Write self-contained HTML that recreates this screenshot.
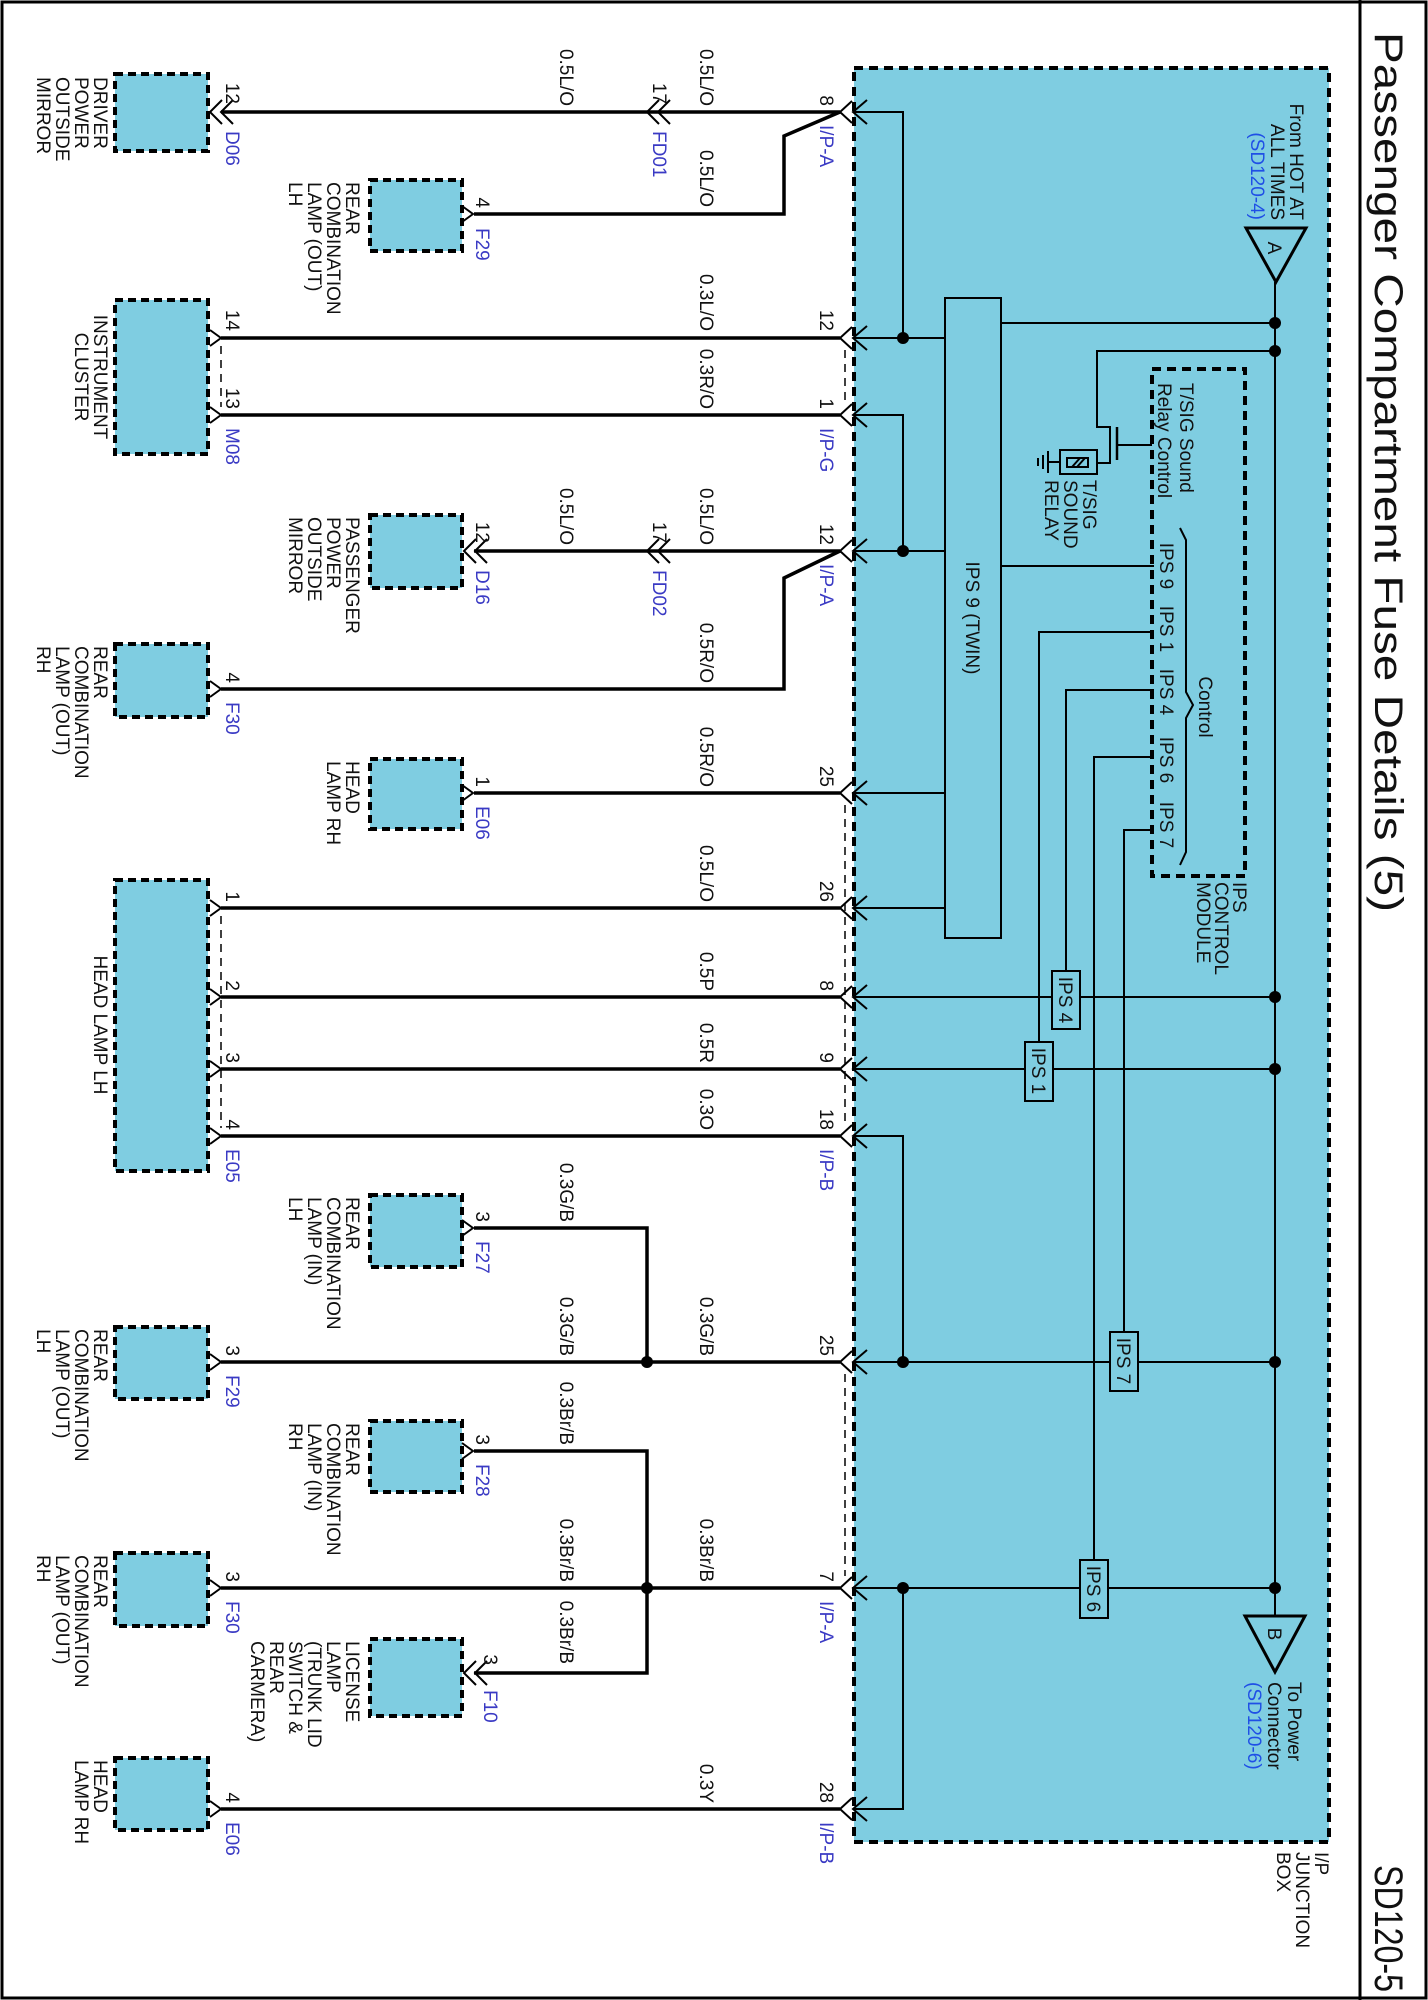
<!DOCTYPE html>
<html><head><meta charset="utf-8"><style>
html,body{margin:0;padding:0;background:#fff;}
svg{display:block;}
text{font-family:"Liberation Sans",Arial,sans-serif;font-size:19px;fill:#111;}
.b{fill:#3a3ac4;}
.lb{fill:#1f4fe6;}
.ti{font-size:40px;}
.w{stroke:#000;stroke-width:3.5;fill:none;}
.n{stroke:#000;stroke-width:2;fill:none;}
.c{stroke:#000;stroke-width:2;fill:none;}
.cb{fill:#7fcde1;stroke:#000;stroke-width:4;stroke-dasharray:8 5;}
.d{stroke:#000;stroke-width:1.5;stroke-dasharray:8 6;fill:none;}
</style></head><body>
<svg width="1428" height="2000" viewBox="0 0 1428 2000" xmlns="http://www.w3.org/2000/svg">
<rect x="2" y="2" width="1424" height="1996" fill="none" stroke="#000" stroke-width="3"/>
<line x1="1360" y1="0" x2="1360" y2="2000" stroke="#000" stroke-width="3"/>
<text class="ti" transform="translate(1375,32) rotate(90)" textLength="880" lengthAdjust="spacingAndGlyphs">Passenger Compartment Fuse Details (5)</text>
<text class="ti" transform="translate(1375,1865) rotate(90)" textLength="127" lengthAdjust="spacingAndGlyphs">SD120-5</text>

<!-- junction box -->
<rect x="854" y="68" width="475" height="1774" fill="#7fcde1" stroke="#000" stroke-width="4" stroke-dasharray="9 6"/>

<!-- component boxes -->
<rect class="cb" x="115" y="74" width="93" height="77"/>
<rect class="cb" x="370" y="180" width="92" height="71"/>
<rect class="cb" x="115" y="300" width="93" height="154"/>
<rect class="cb" x="370" y="515" width="92" height="73"/>
<rect class="cb" x="115" y="644" width="93" height="73"/>
<rect class="cb" x="370" y="759" width="92" height="70"/>
<rect class="cb" x="115" y="880" width="93" height="291"/>
<rect class="cb" x="370" y="1195" width="92" height="72"/>
<rect class="cb" x="115" y="1327" width="93" height="72"/>
<rect class="cb" x="370" y="1421" width="92" height="71"/>
<rect class="cb" x="115" y="1553" width="93" height="73"/>
<rect class="cb" x="370" y="1639" width="92" height="77"/>
<rect class="cb" x="115" y="1758" width="93" height="72"/>

<!-- thick wires -->
<g class="w">
<line x1="221" y1="112" x2="840" y2="112"/>
<polyline points="840,112 784,136 784,214 474,214"/>
<line x1="221" y1="338" x2="840" y2="338"/>
<line x1="221" y1="415" x2="840" y2="415"/>
<line x1="474" y1="551" x2="840" y2="551"/>
<polyline points="840,551 784,578 784,689 221,689"/>
<line x1="474" y1="793" x2="840" y2="793"/>
<line x1="221" y1="908" x2="840" y2="908"/>
<line x1="221" y1="997" x2="840" y2="997"/>
<line x1="221" y1="1069" x2="840" y2="1069"/>
<line x1="221" y1="1136" x2="840" y2="1136"/>
<line x1="221" y1="1362" x2="840" y2="1362"/>
<polyline points="647,1362 647,1228 474,1228"/>
<line x1="221" y1="1588" x2="840" y2="1588"/>
<polyline points="474,1451 647,1451 647,1673 474,1673"/>
<line x1="221" y1="1809" x2="840" y2="1809"/>
</g>
<circle cx="647" cy="1362" r="6"/><circle cx="647" cy="1588" r="6"/>

<!-- box-side connectors -->
<g class="c">
<path d="M852,101 L840,112 L852,123 M867,100 L853,112 L867,124"/>
<path d="M852,327 L840,338 L852,349 M867,326 L853,338 L867,350"/>
<path d="M852,404 L840,415 L852,426 M867,403 L853,415 L867,427"/>
<path d="M852,540 L840,551 L852,562 M867,539 L853,551 L867,563"/>
<path d="M852,782 L840,793 L852,804 M867,781 L853,793 L867,805"/>
<path d="M852,897 L840,908 L852,919 M867,896 L853,908 L867,920"/>
<path d="M852,986 L840,997 L852,1008 M867,985 L853,997 L867,1009"/>
<path d="M852,1058 L840,1069 L852,1080 M867,1057 L853,1069 L867,1081"/>
<path d="M852,1125 L840,1136 L852,1147 M867,1124 L853,1136 L867,1148"/>
<path d="M852,1351 L840,1362 L852,1373 M867,1350 L853,1362 L867,1374"/>
<path d="M852,1577 L840,1588 L852,1599 M867,1576 L853,1588 L867,1600"/>
<path d="M852,1798 L840,1809 L852,1820 M867,1797 L853,1809 L867,1821"/>
<!-- inline double chevrons -->
<path d="M659,100 L647,112 L659,124 M670,100 L658,112 L670,124"/>
<path d="M659,539 L647,551 L659,563 M670,539 L658,551 L670,563"/>
<path d="M222,100 L210,112 L222,124 M233,100 L221,112 L233,124"/>
<path d="M476,539 L464,551 L476,563 M487,539 L475,551 L487,563"/>
<path d="M476,1661 L464,1673 L476,1685 M487,1661 L475,1673 L487,1685"/>
<!-- male connectors on boxes -->
<path d="M210,330 L221,338 L210,346"/><path d="M210,407 L221,415 L210,423"/>
<path d="M462,206 L473,214 L462,222"/>
<path d="M210,681 L221,689 L210,697"/>
<path d="M462,785 L473,793 L462,801"/>
<path d="M210,900 L221,908 L210,916"/><path d="M210,989 L221,997 L210,1005"/>
<path d="M210,1061 L221,1069 L210,1077"/><path d="M210,1128 L221,1136 L210,1144"/>
<path d="M462,1220 L473,1228 L462,1236"/>
<path d="M210,1354 L221,1362 L210,1370"/>
<path d="M462,1443 L473,1451 L462,1459"/>
<path d="M210,1580 L221,1588 L210,1596"/>
<path d="M210,1801 L221,1809 L210,1817"/>
</g>
<!-- dashed group lines -->
<g class="d">
<line x1="845" y1="350" x2="845" y2="403"/>
<line x1="845" y1="805" x2="845" y2="1124"/>
<line x1="845" y1="1374" x2="845" y2="1576"/>
<line x1="221" y1="346" x2="221" y2="407"/>
<line x1="221" y1="916" x2="221" y2="1128"/>
</g>

<!-- inner wiring -->
<g class="n">
<polyline points="853,112 903,112 903,338"/>
<line x1="853" y1="338" x2="945" y2="338"/>
<polyline points="853,415 903,415 903,551"/>
<line x1="853" y1="551" x2="945" y2="551"/>
<line x1="853" y1="793" x2="945" y2="793"/>
<line x1="853" y1="908" x2="945" y2="908"/>
<line x1="853" y1="997" x2="1275" y2="997"/>
<line x1="853" y1="1069" x2="1275" y2="1069"/>
<polyline points="853,1136 903,1136 903,1362"/>
<line x1="853" y1="1362" x2="1275" y2="1362"/>
<line x1="853" y1="1588" x2="1275" y2="1588"/>
<polyline points="853,1809 903,1809 903,1588"/>
<line x1="1275" y1="282" x2="1275" y2="1616"/>
<rect x="945" y="298" width="56" height="640"/>
<line x1="1001" y1="323" x2="1275" y2="323"/>
<polyline points="1275,351 1097,351 1097,427 1110,427 1110,463 1097,463"/>
<rect x="1060" y="450" width="37" height="24"/>
<rect x="1067" y="458" width="21" height="9"/>
<path d="M1072,467 L1080,458 M1077,467 L1085,458"/>
<line x1="1060" y1="462" x2="1048" y2="462"/>
<line x1="1048" y1="451" x2="1048" y2="473"/>
<line x1="1043" y1="455" x2="1043" y2="469"/>
<line x1="1038" y1="458" x2="1038" y2="466"/>
<line x1="1117" y1="427" x2="1117" y2="460" stroke-width="2.5"/>
<line x1="1117" y1="445" x2="1152" y2="445"/>
<line x1="1001" y1="566" x2="1154" y2="566"/>
<polyline points="1154,632 1039,632 1039,1042"/>
<polyline points="1154,690 1066,690 1066,971"/>
<polyline points="1154,757 1094,757 1094,1560"/>
<polyline points="1154,830 1124,830 1124,1332"/>
<path d="M1180,528 L1186,540 L1186,692 L1193,705 L1186,718 L1186,852 L1180,865"/>
<polygon points="1246,228 1306,228 1276,282" stroke-width="3"/>
<polygon points="1245,1616 1305,1616 1275,1672" stroke-width="3"/>
</g>
<g fill="#7fcde1" stroke="#000" stroke-width="2">
<rect x="1052" y="971" width="28" height="58"/>
<rect x="1025" y="1042" width="28" height="59"/>
<rect x="1110" y="1332" width="28" height="59"/>
<rect x="1080" y="1560" width="28" height="58"/>
</g>
<rect x="1152" y="369" width="93" height="507" fill="none" stroke="#000" stroke-width="4" stroke-dasharray="9 6"/>
<g>
<circle cx="903" cy="338" r="6"/><circle cx="903" cy="551" r="6"/>
<circle cx="903" cy="1362" r="6"/><circle cx="903" cy="1588" r="6"/>
<circle cx="1275" cy="323" r="6"/><circle cx="1275" cy="351" r="6"/>
<circle cx="1275" cy="997" r="6"/><circle cx="1275" cy="1069" r="6"/>
<circle cx="1275" cy="1362" r="6"/><circle cx="1275" cy="1588" r="6"/>
</g>

<!-- inner text -->
<text transform="translate(966,618) rotate(90)" text-anchor="middle">IPS 9 (TWIN)</text>
<text transform="translate(1059,1000) rotate(90)" text-anchor="middle">IPS 4</text>
<text transform="translate(1032,1071) rotate(90)" text-anchor="middle">IPS 1</text>
<text transform="translate(1117,1361) rotate(90)" text-anchor="middle">IPS 7</text>
<text transform="translate(1087,1589) rotate(90)" text-anchor="middle">IPS 6</text>
<text transform="translate(1160,566) rotate(90)" text-anchor="middle">IPS 9</text>
<text transform="translate(1160,629) rotate(90)" text-anchor="middle">IPS 1</text>
<text transform="translate(1160,692) rotate(90)" text-anchor="middle">IPS 4</text>
<text transform="translate(1160,760) rotate(90)" text-anchor="middle">IPS 6</text>
<text transform="translate(1160,825) rotate(90)" text-anchor="middle">IPS 7</text>
<text transform="translate(1199,707) rotate(90)" text-anchor="middle">Control</text>
<text transform="translate(1180,383) rotate(90)">T/SIG Sound</text>
<text transform="translate(1158,383) rotate(90)">Relay Control</text>
<text transform="translate(1083,480) rotate(90)">T/SIG</text>
<text transform="translate(1064,480) rotate(90)">SOUND</text>
<text transform="translate(1045,480) rotate(90)">RELAY</text>
<text transform="translate(1233,882) rotate(90)">IPS</text>
<text transform="translate(1215,882) rotate(90)">CONTROL</text>
<text transform="translate(1197,882) rotate(90)">MODULE</text>
<text transform="translate(1268,248) rotate(90)" text-anchor="middle">A</text>
<text transform="translate(1268,1634) rotate(90)" text-anchor="middle">B</text>
<text transform="translate(1290,220) rotate(90)" text-anchor="end">From HOT AT</text>
<text transform="translate(1271,220) rotate(90)" text-anchor="end">ALL TIMES</text>
<text class="lb" transform="translate(1251,220) rotate(90)" text-anchor="end">(SD120-4)</text>
<text transform="translate(1288,1682) rotate(90)">To Power</text>
<text transform="translate(1268,1682) rotate(90)">Connector</text>
<text class="lb" transform="translate(1248,1682) rotate(90)">(SD120-6)</text>
<text transform="translate(1315,1852) rotate(90)">I/P</text>
<text transform="translate(1296,1852) rotate(90)">JUNCTION</text>
<text transform="translate(1277,1852) rotate(90)">BOX</text>

<!-- box-side pin numbers and connector names -->
<g>
<text transform="translate(820,106) rotate(90)" text-anchor="end">8</text>
<text class="b" transform="translate(820,125) rotate(90)">I/P-A</text>
<text transform="translate(820,331) rotate(90)" text-anchor="end">12</text>
<text transform="translate(820,409) rotate(90)" text-anchor="end">1</text>
<text class="b" transform="translate(820,428) rotate(90)">I/P-G</text>
<text transform="translate(820,545) rotate(90)" text-anchor="end">12</text>
<text class="b" transform="translate(820,564) rotate(90)">I/P-A</text>
<text transform="translate(820,787) rotate(90)" text-anchor="end">25</text>
<text transform="translate(820,902) rotate(90)" text-anchor="end">26</text>
<text transform="translate(820,991) rotate(90)" text-anchor="end">8</text>
<text transform="translate(820,1063) rotate(90)" text-anchor="end">9</text>
<text transform="translate(820,1130) rotate(90)" text-anchor="end">18</text>
<text class="b" transform="translate(820,1149) rotate(90)">I/P-B</text>
<text transform="translate(820,1356) rotate(90)" text-anchor="end">25</text>
<text transform="translate(820,1582) rotate(90)" text-anchor="end">7</text>
<text class="b" transform="translate(820,1601) rotate(90)">I/P-A</text>
<text transform="translate(820,1803) rotate(90)" text-anchor="end">28</text>
<text class="b" transform="translate(820,1822) rotate(90)">I/P-B</text>
</g>
<!-- wire labels -->
<g>
<text transform="translate(700,106) rotate(90)" text-anchor="end">0.5L/O</text>
<text transform="translate(560,106) rotate(90)" text-anchor="end">0.5L/O</text>
<text transform="translate(700,207) rotate(90)" text-anchor="end">0.5L/O</text>
<text transform="translate(700,331) rotate(90)" text-anchor="end">0.3L/O</text>
<text transform="translate(700,409) rotate(90)" text-anchor="end">0.3R/O</text>
<text transform="translate(700,545) rotate(90)" text-anchor="end">0.5L/O</text>
<text transform="translate(560,545) rotate(90)" text-anchor="end">0.5L/O</text>
<text transform="translate(700,683) rotate(90)" text-anchor="end">0.5R/O</text>
<text transform="translate(700,787) rotate(90)" text-anchor="end">0.5R/O</text>
<text transform="translate(700,902) rotate(90)" text-anchor="end">0.5L/O</text>
<text transform="translate(700,991) rotate(90)" text-anchor="end">0.5P</text>
<text transform="translate(700,1063) rotate(90)" text-anchor="end">0.5R</text>
<text transform="translate(700,1130) rotate(90)" text-anchor="end">0.3O</text>
<text transform="translate(560,1222) rotate(90)" text-anchor="end">0.3G/B</text>
<text transform="translate(700,1356) rotate(90)" text-anchor="end">0.3G/B</text>
<text transform="translate(560,1356) rotate(90)" text-anchor="end">0.3G/B</text>
<text transform="translate(560,1445) rotate(90)" text-anchor="end">0.3Br/B</text>
<text transform="translate(700,1582) rotate(90)" text-anchor="end">0.3Br/B</text>
<text transform="translate(560,1582) rotate(90)" text-anchor="end">0.3Br/B</text>
<text transform="translate(560,1664) rotate(90)" text-anchor="end">0.3Br/B</text>
<text transform="translate(700,1803) rotate(90)" text-anchor="end">0.3Y</text>
</g>
<!-- component-side pins & names -->
<g>
<text transform="translate(653,104) rotate(90)" text-anchor="end">17</text>
<text class="b" transform="translate(653,131) rotate(90)">FD01</text>
<text transform="translate(653,543) rotate(90)" text-anchor="end">17</text>
<text class="b" transform="translate(653,570) rotate(90)">FD02</text>
<text transform="translate(226,104) rotate(90)" text-anchor="end">12</text>
<text class="b" transform="translate(226,131) rotate(90)">D06</text>
<text transform="translate(476,208) rotate(90)" text-anchor="end">4</text>
<text class="b" transform="translate(476,228) rotate(90)">F29</text>
<text transform="translate(226,331) rotate(90)" text-anchor="end">14</text>
<text transform="translate(226,409) rotate(90)" text-anchor="end">13</text>
<text class="b" transform="translate(226,428) rotate(90)">M08</text>
<text transform="translate(476,543) rotate(90)" text-anchor="end">12</text>
<text class="b" transform="translate(476,570) rotate(90)">D16</text>
<text transform="translate(226,683) rotate(90)" text-anchor="end">4</text>
<text class="b" transform="translate(226,702) rotate(90)">F30</text>
<text transform="translate(476,787) rotate(90)" text-anchor="end">1</text>
<text class="b" transform="translate(476,806) rotate(90)">E06</text>
<text transform="translate(226,902) rotate(90)" text-anchor="end">1</text>
<text transform="translate(226,991) rotate(90)" text-anchor="end">2</text>
<text transform="translate(226,1063) rotate(90)" text-anchor="end">3</text>
<text transform="translate(226,1130) rotate(90)" text-anchor="end">4</text>
<text class="b" transform="translate(226,1149) rotate(90)">E05</text>
<text transform="translate(476,1222) rotate(90)" text-anchor="end">3</text>
<text class="b" transform="translate(476,1241) rotate(90)">F27</text>
<text transform="translate(226,1356) rotate(90)" text-anchor="end">3</text>
<text class="b" transform="translate(226,1375) rotate(90)">F29</text>
<text transform="translate(476,1445) rotate(90)" text-anchor="end">3</text>
<text class="b" transform="translate(476,1464) rotate(90)">F28</text>
<text transform="translate(226,1582) rotate(90)" text-anchor="end">3</text>
<text class="b" transform="translate(226,1601) rotate(90)">F30</text>
<text transform="translate(484,1665) rotate(90)" text-anchor="end">3</text>
<text class="b" transform="translate(484,1690) rotate(90)">F10</text>
<text transform="translate(226,1803) rotate(90)" text-anchor="end">4</text>
<text class="b" transform="translate(226,1822) rotate(90)">E06</text>
</g>
<!-- component names -->
<g>
<text transform="translate(94,77) rotate(90)">DRIVER</text>
<text transform="translate(75,77) rotate(90)">POWER</text>
<text transform="translate(56,77) rotate(90)">OUTSIDE</text>
<text transform="translate(37,77) rotate(90)">MIRROR</text>

<text transform="translate(346,182) rotate(90)">REAR</text>
<text transform="translate(327,182) rotate(90)">COMBINATION</text>
<text transform="translate(308,182) rotate(90)">LAMP (OUT)</text>
<text transform="translate(289,182) rotate(90)">LH</text>

<text transform="translate(94,377) rotate(90)" text-anchor="middle">INSTRUMENT</text>
<text transform="translate(75,377) rotate(90)" text-anchor="middle">CLUSTER</text>

<text transform="translate(346,517) rotate(90)">PASSENGER</text>
<text transform="translate(327,517) rotate(90)">POWER</text>
<text transform="translate(308,517) rotate(90)">OUTSIDE</text>
<text transform="translate(289,517) rotate(90)">MIRROR</text>

<text transform="translate(94,646) rotate(90)">REAR</text>
<text transform="translate(75,646) rotate(90)">COMBINATION</text>
<text transform="translate(56,646) rotate(90)">LAMP (OUT)</text>
<text transform="translate(37,646) rotate(90)">RH</text>

<text transform="translate(346,761) rotate(90)">HEAD</text>
<text transform="translate(327,761) rotate(90)">LAMP RH</text>

<text transform="translate(94,1025) rotate(90)" text-anchor="middle">HEAD LAMP LH</text>

<text transform="translate(346,1197) rotate(90)">REAR</text>
<text transform="translate(327,1197) rotate(90)">COMBINATION</text>
<text transform="translate(308,1197) rotate(90)">LAMP (IN)</text>
<text transform="translate(289,1197) rotate(90)">LH</text>

<text transform="translate(94,1329) rotate(90)">REAR</text>
<text transform="translate(75,1329) rotate(90)">COMBINATION</text>
<text transform="translate(56,1329) rotate(90)">LAMP (OUT)</text>
<text transform="translate(37,1329) rotate(90)">LH</text>

<text transform="translate(346,1423) rotate(90)">REAR</text>
<text transform="translate(327,1423) rotate(90)">COMBINATION</text>
<text transform="translate(308,1423) rotate(90)">LAMP (IN)</text>
<text transform="translate(289,1423) rotate(90)">RH</text>

<text transform="translate(94,1555) rotate(90)">REAR</text>
<text transform="translate(75,1555) rotate(90)">COMBINATION</text>
<text transform="translate(56,1555) rotate(90)">LAMP (OUT)</text>
<text transform="translate(37,1555) rotate(90)">RH</text>

<text transform="translate(346,1641) rotate(90)">LICENSE</text>
<text transform="translate(327,1641) rotate(90)">LAMP</text>
<text transform="translate(308,1641) rotate(90)">(TRUNK LID</text>
<text transform="translate(289,1641) rotate(90)">SWITCH &amp;</text>
<text transform="translate(270,1641) rotate(90)">REAR</text>
<text transform="translate(251,1641) rotate(90)">CARMERA)</text>

<text transform="translate(94,1760) rotate(90)">HEAD</text>
<text transform="translate(75,1760) rotate(90)">LAMP RH</text>
</g>
</svg>
</body></html>
